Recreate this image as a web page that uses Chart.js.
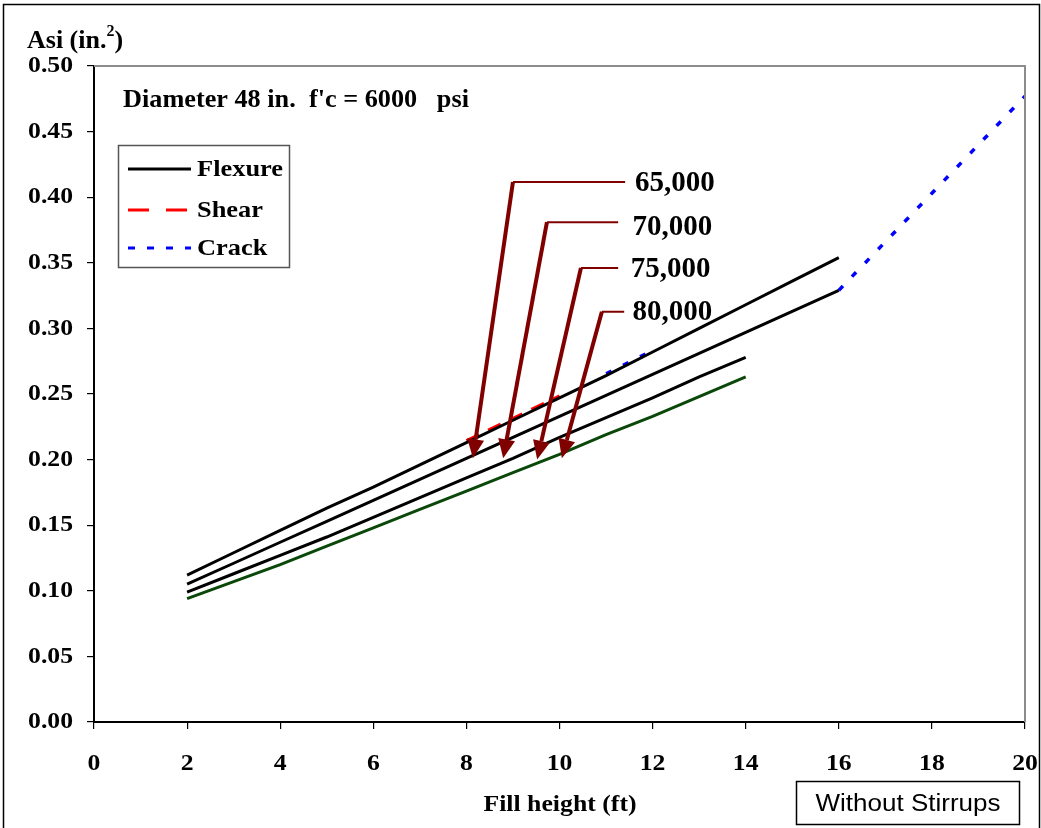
<!DOCTYPE html>
<html><head><meta charset="utf-8">
<script src="https://cdn.jsdelivr.net/npm/chart.js@4/dist/chart.umd.min.js"></script>
<style>html,body{margin:0;padding:0;background:#fff}#wrap{width:1041px;height:828px}</style>
</head><body><div id="wrap"><canvas id="c" width="1041" height="828"></canvas></div>
<script>
// ---- data ----
const xLong = [2,3,4,5,6,7,8,9,10,11,12,13,14,15,16];
const xShort = [2,3,4,5,6,7,8,9,10,11,12,13,14];
const flex65 = [0.112,0.129,0.146,0.163,0.179,0.196,0.213,0.230,0.247,0.264,0.282,0.300,0.318,0.336,0.354];
const flex70 = [0.105,0.121,0.137,0.153,0.169,0.185,0.201,0.217,0.233,0.249,0.265,0.281,0.297,0.313,0.329];
const flex75 = [0.099,0.113,0.127,0.141,0.156,0.171,0.186,0.201,0.217,0.232,0.247,0.263,0.278];
const flex80 = [0.094,0.107,0.120,0.134,0.148,0.162,0.176,0.190,0.204,0.219,0.233,0.248,0.263];
const shearX = [8,9,10];
const shear65 = [0.2145,0.2315,0.2485];
const crackX1 = [11,12];
const crack65 = [0.2655,0.2835];
const crackX2 = [16,18,20];
const crack70 = [0.329,0.403,0.477];
const yTicks = [0,0.05,0.10,0.15,0.20,0.25,0.30,0.35,0.40,0.45,0.50];
const xTicks = [0,2,4,6,8,10,12,14,16,18,20];
const strengthLabels = ["65,000","70,000","75,000","80,000"];
// arrow geometry in data units
const labelTextX = [11.62,11.57,11.53,11.57];
const labelTextY = [0.411,0.378,0.346,0.313];
const arrowLineEndX = [11.41,11.26,11.26,11.39];
const arrowY = [0.4116,0.381,0.346,0.3127];
const arrowBendX = [9.00,9.73,10.46,10.91];
const arrowTipX = [8.14,8.79,9.52,10.05];
const arrowTipY = [0.201,0.201,0.200,0.201];
const legendNames = ["Flexure","Shear","Crack"];

const pts = (xs, ys) => xs.map((x,i)=>({x, y: ys[i]}));
const SERIF = '"Liberation Serif", "Times New Roman", serif';
const SANS = '"Liberation Sans", Arial, sans-serif';
const DARKRED = '#800000';
const TICK_STRETCH = 1.07;

const datasets = [
  {label:'Shear', data: pts(shearX, shear65), borderColor:'#ff0000', borderDash:[14,10], borderWidth:3, order:5},
  {label:'Crack', data: pts(crackX1, crack65), borderColor:'#0000ff', borderDash:[6,13], borderWidth:3, order:5},
  {label:'Crack', data: pts(crackX2, crack70), borderColor:'#0000ff', borderDash:[6,13], borderWidth:3.5, order:4},
  {label:'Flexure 65,000', data: pts(xLong, flex65), borderColor:'#000', borderWidth:3, order:1},
  {label:'Flexure 70,000', data: pts(xLong, flex70), borderColor:'#000', borderWidth:3, order:1},
  {label:'Flexure 75,000', data: pts(xShort, flex75), borderColor:'#000', borderWidth:3, order:1},
  {label:'Flexure 80,000', data: pts(xShort, flex80), borderColor:'#0a480a', borderWidth:3, order:1},
];
datasets.forEach(d=>{d.pointRadius=0; d.fill=false; d.tension=0; d.borderCapStyle='butt';});

function sText(ctx, text, x, y, sx){
  ctx.save(); ctx.translate(x,y); ctx.scale(sx,1); ctx.fillText(text,0,0); ctx.restore();
}

// widen axis tick labels slightly (the reference text is a little wider)
const stretchTicks = {
  id:'stretchTicks',
  beforeDraw(chart){
    const ctx = chart.ctx;
    if (!ctx._origFillText) ctx._origFillText = ctx.fillText;
    const orig = ctx._origFillText;
    ctx.fillText = function(t,x,y){ this.save(); this.translate(x,y); this.scale(TICK_STRETCH,1); orig.call(this,t,0,0); this.restore(); };
  },
  beforeDatasetsDraw(chart){
    const ctx = chart.ctx;
    if (ctx._origFillText) ctx.fillText = ctx._origFillText;
  }
};

const deco = {
  id:'deco',
  afterDraw(chart){
    const {ctx, chartArea:a, scales:{x, y}} = chart;
    ctx.save();
    // outer frame
    ctx.strokeStyle='#000'; ctx.lineWidth=1.5;
    ctx.strokeRect(3.5,4.5,1036,830);
    // top & right plot borders (gray)
    ctx.strokeStyle='#8c8c8c'; ctx.lineWidth=2;
    ctx.beginPath(); ctx.moveTo(a.left,a.top); ctx.lineTo(a.right,a.top); ctx.lineTo(a.right,a.bottom); ctx.stroke();
    // y title with superscript
    ctx.fillStyle='#000'; ctx.textBaseline='alphabetic'; ctx.textAlign='left';
    ctx.font='bold 26px '+SERIF;
    let t1='Asi (in.'; ctx.fillText(t1,27,48);
    let w1=ctx.measureText(t1).width;
    ctx.font='bold 16px '+SERIF; ctx.fillText('2',27+w1,36);
    let w2=ctx.measureText('2').width;
    ctx.font='bold 26px '+SERIF; ctx.fillText(')',27+w1+w2,48);
    // annotation
    ctx.font='bold 25px '+SERIF;
    sText(ctx,"Diameter 48 in.  f'c = 6000   psi",123,107,1.05);
    // x title
    ctx.textAlign='center';
    ctx.font='bold 23px '+SERIF;
    sText(ctx,'Fill height (ft)',560,811,1.12);
    // Without stirrups box
    ctx.strokeStyle='#000'; ctx.lineWidth=1.5;
    ctx.strokeRect(796.5,781.5,223,43);
    ctx.font='23px '+SANS;
    sText(ctx,'Without Stirrups',908,811,1.13);
    // legend
    ctx.strokeStyle='#555'; ctx.lineWidth=1.5;
    ctx.fillStyle='#fff';
    ctx.fillRect(118,145,171,122);
    ctx.strokeRect(118.5,145.5,171,122);
    const legStyles=[datasets[3],datasets[0],datasets[1]];
    const legY=[169,210,248];
    legendNames.forEach((n,i)=>{
      const yy=legY[i];
      const d=legStyles[i];
      ctx.strokeStyle=d.borderColor; ctx.lineWidth=3;
      ctx.setLineDash(i===0?[]:(i===1?[21,17]:[7,12]));
      ctx.beginPath(); ctx.moveTo(128,yy); ctx.lineTo(191,yy); ctx.stroke();
      ctx.setLineDash([]);
      ctx.fillStyle='#000'; ctx.textAlign='left'; ctx.textBaseline='middle';
      ctx.font='bold 24px '+SERIF;
      sText(ctx,n,197,yy+1,1.1);
    });
    // arrows
    strengthLabels.forEach((lab,i)=>{
      const ly=y.getPixelForValue(arrowY[i]);
      const lx=x.getPixelForValue(arrowLineEndX[i]);
      const bx=x.getPixelForValue(arrowBendX[i]);
      const tx=x.getPixelForValue(arrowTipX[i]);
      const ty=y.getPixelForValue(arrowTipY[i]);
      ctx.strokeStyle=DARKRED; ctx.fillStyle=DARKRED;
      ctx.lineWidth=2;
      ctx.beginPath(); ctx.moveTo(lx,ly); ctx.lineTo(bx,ly); ctx.stroke();
      const ang=Math.atan2(ty-ly,tx-bx);
      const hl=19, hw=8.5;
      const baseX=tx-hl*Math.cos(ang), baseY=ty-hl*Math.sin(ang);
      ctx.lineWidth=4;
      ctx.beginPath(); ctx.moveTo(bx,ly); ctx.lineTo(baseX,baseY); ctx.stroke();
      ctx.beginPath();
      ctx.moveTo(tx,ty);
      ctx.lineTo(baseX+hw*Math.sin(ang), baseY-hw*Math.cos(ang));
      ctx.lineTo(baseX-hw*Math.sin(ang), baseY+hw*Math.cos(ang));
      ctx.closePath(); ctx.fill();
      ctx.fillStyle='#000'; ctx.textAlign='left'; ctx.textBaseline='middle';
      ctx.font='bold 29px '+SERIF;
      ctx.fillText(lab,x.getPixelForValue(labelTextX[i]),y.getPixelForValue(labelTextY[i])+1);
    });
    ctx.restore();
  }
};

new Chart(document.getElementById('c'),{
  type:'line',
  data:{datasets},
  options:{
    responsive:false, animation:false, devicePixelRatio:1,
    layout:{padding:{left:0,top:66,right:16,bottom:0}},
    plugins:{legend:{display:false}, title:{display:false}, tooltip:{enabled:false}},
    scales:{
      x:{type:'linear', min:0, max:20,
        afterFit(s){s.height=106; s.paddingLeft=0; s.paddingRight=0;},
        afterBuildTicks(s){s.ticks=xTicks.map(v=>({value:v}));},
        ticks:{color:'#000', font:{family:SERIF, size:24, weight:'bold'}, padding:20, maxRotation:0, autoSkip:false},
        grid:{drawOnChartArea:false, drawTicks:true, tickLength:7, color:'#000', lineWidth:1.2},
        border:{display:true, color:'#000', width:2}
      },
      y:{type:'linear', min:0, max:0.5,
        afterFit(s){s.width=94; s.paddingTop=0; s.paddingBottom=0;},
        afterBuildTicks(s){s.ticks=yTicks.map(v=>({value:v}));},
        ticks:{color:'#000', font:{family:SERIF, size:24, weight:'bold'}, padding:14, callback:v=>Number(v).toFixed(2), autoSkip:false},
        grid:{drawOnChartArea:false, drawTicks:true, tickLength:7, color:'#000', lineWidth:1.2},
        border:{display:true, color:'#000', width:2}
      }
    }
  },
  plugins:[stretchTicks, deco]
});
</script></body></html>
